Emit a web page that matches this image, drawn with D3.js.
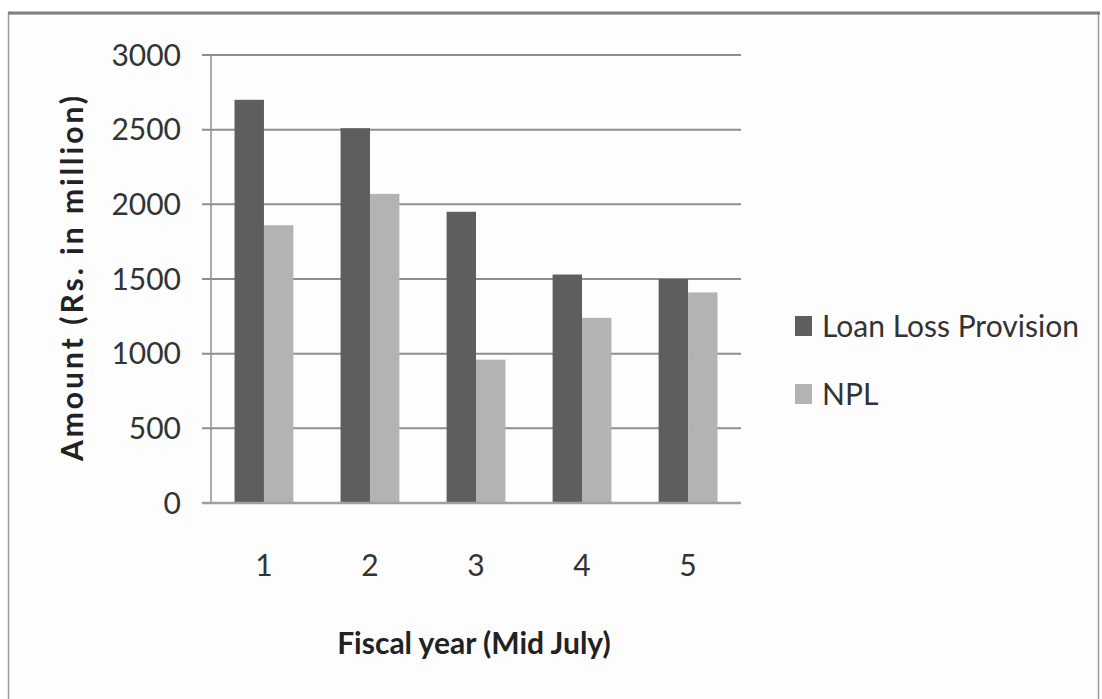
<!DOCTYPE html>
<html><head><meta charset="utf-8">
<script src="https://cdn.jsdelivr.net/npm/d3@7"></script>
<style>body{margin:0;background:#fff}svg{display:block}</style>
</head><body>
<script>
const categories = ["1","2","3","4","5"];
const seriesNames = ["Loan Loss Provision","NPL"];
const loanLossProvision = [2700, 2510, 1950, 1530, 1500];
const npl = [1860, 2070, 960, 1240, 1410];
const yTicks = [0, 500, 1000, 1500, 2000, 2500, 3000];
const colors = ["#5e5e5e", "#b3b3b3"];

(function () {
const W = 1102, H = 699;
const svg = d3.select("body").append("svg").attr("width", W).attr("height", H);
svg.append("rect").attr("width", W).attr("height", H).attr("fill", "#fff");
// outer frame
svg.append("rect").attr("x", 8.5).attr("y", 13.5).attr("width", 1090).attr("height", 700)
  .attr("fill", "#fdfdfd").attr("stroke", "#9a9a9a").attr("stroke-width", 1.5);
svg.append("line").attr("x1", 8).attr("x2", 1100).attr("y1", 13).attr("y2", 13)
  .attr("stroke", "#808080").attr("stroke-width", 3);

const pLeft = 211, pRight = 741, pTop = 55, pBottom = 503;
const x = d3.scaleBand().domain(categories).range([pLeft, pRight]).paddingInner(0.445).paddingOuter(0.222);
const xs = d3.scaleBand().domain(seriesNames).range([0, x.bandwidth()]);
const y = d3.scaleLinear().domain([0, 3000]).range([pBottom, pTop]);

const font = "Lato, 'Open Sans', sans-serif";

// gridlines
svg.append("g").selectAll("line").data(yTicks).join("line")
  .attr("x1", 202).attr("x2", pRight).attr("y1", d => y(d)).attr("y2", d => y(d))
  .attr("stroke", "#8e8e8e").attr("stroke-width", 2);
// y axis line
svg.append("line").attr("x1", pLeft).attr("x2", pLeft).attr("y1", pTop).attr("y2", pBottom)
  .attr("stroke", "#8e8e8e").attr("stroke-width", 1.5);

// bars
const data = categories.map((c, i) => ({c, vals: [loanLossProvision[i], npl[i]]}));
const g = svg.append("g").selectAll("g").data(data).join("g")
  .attr("transform", d => `translate(${x(d.c)},0)`);
g.selectAll("rect").data(d => d.vals.map((v, k) => ({v, s: seriesNames[k], k}))).join("rect")
  .attr("x", d => xs(d.s)).attr("width", xs.bandwidth())
  .attr("y", d => y(d.v)).attr("height", d => y(0) - y(d.v))
  .attr("fill", d => colors[d.k]);

// baseline redraw
svg.append("line").attr("x1", 202).attr("x2", pRight).attr("y1", pBottom).attr("y2", pBottom)
  .attr("stroke", "#a0a0a0").attr("stroke-width", 2.5);

// y tick labels
svg.append("g").selectAll("text").data(yTicks).join("text")
  .attr("x", 181).attr("y", d => y(d)).attr("dy", "0.35em").attr("text-anchor", "end")
  .attr("font-family", font).attr("font-size", 30).attr("fill", "#333")
  .text(d => d);

// x tick labels
svg.append("g").selectAll("text").data(categories).join("text")
  .attr("x", d => x(d) + x.bandwidth() / 2).attr("y", 565).attr("dy", "0.35em")
  .attr("text-anchor", "middle").attr("font-family", font).attr("font-size", 30).attr("fill", "#333")
  .text(d => d);

// axis titles
svg.append("text").attr("transform", `translate(72,277) rotate(-90)`)
  .attr("dy", "0.35em").attr("text-anchor", "middle").attr("font-family", font).attr("font-size", 30)
  .attr("letter-spacing", 3)
  .attr("font-weight", "bold").attr("fill", "#222").text("Amount (Rs. in million)");
svg.append("text").attr("x", 474).attr("y", 643).attr("dy", "0.35em")
  .attr("text-anchor", "middle").attr("font-family", font).attr("font-size", 30)
  .attr("font-weight", "bold").attr("fill", "#222").text("Fiscal year (Mid July)");

// legend
const lg = svg.append("g").selectAll("g").data(seriesNames).join("g")
  .attr("transform", (d, i) => `translate(795,${326 + i * 68})`);
lg.append("rect").attr("x", 0).attr("y", -10).attr("width", 17).attr("height", 20)
  .attr("fill", (d, i) => colors[i]);
lg.append("text").attr("x", 27).attr("y", 0).attr("dy", "0.35em")
  .attr("font-family", font).attr("font-size", 30).attr("fill", "#333").text(d => d);
})();
</script>
</body></html>
